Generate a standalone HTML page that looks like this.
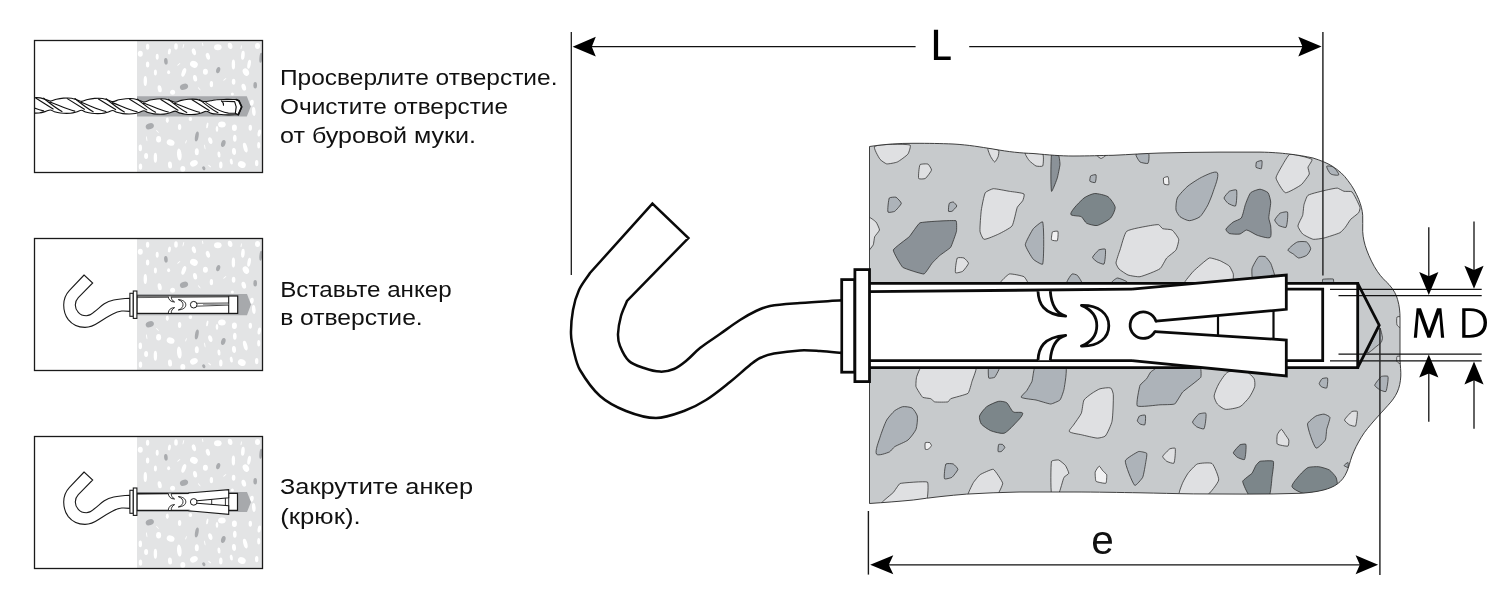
<!DOCTYPE html>
<html lang="ru">
<head>
<meta charset="utf-8">
<title>Анкер с крюком — схема монтажа</title>
<style>
html,body{margin:0;padding:0;background:#fff;}
body{width:1500px;height:600px;overflow:hidden;font-family:"Liberation Sans",sans-serif;}
svg{display:block;will-change:transform;}
text{font-family:"Liberation Sans",sans-serif;fill:#111;}
</style>
</head>
<body>
<svg width="1500" height="600" viewBox="0 0 1500 600">
<defs>
  <!-- concrete texture for the small panels (panel-1 coordinates) -->
  <g id="pconc">
    <rect x="137" y="40.5" width="125.5" height="132" fill="#e3e4e5"/>
    <g fill="#fff">
<ellipse cx="147.6" cy="46.8" rx="1.7" ry="3.0" transform="rotate(0 147.6 46.8)"/>
<ellipse cx="140.3" cy="53.8" rx="2.5" ry="3.0" transform="rotate(0 140.3 53.8)"/>
<ellipse cx="157.2" cy="56.7" rx="1.5" ry="3.0" transform="rotate(0 157.2 56.7)"/>
<ellipse cx="147.6" cy="64.6" rx="1.7" ry="3.0" transform="rotate(0 147.6 64.6)"/>
<ellipse cx="155.4" cy="72.4" rx="1.5" ry="3.0" transform="rotate(0 155.4 72.4)"/>
<ellipse cx="145.3" cy="80.9" rx="1.7" ry="5.0" transform="rotate(0 145.3 80.9)"/>
<ellipse cx="159.7" cy="88.8" rx="2.0" ry="3.5" transform="rotate(-10 159.7 88.8)"/>
<ellipse cx="169.4" cy="51.4" rx="1.5" ry="3.0" transform="rotate(10 169.4 51.4)"/>
<ellipse cx="176.0" cy="46.4" rx="1.8" ry="3.2" transform="rotate(0 176.0 46.4)"/>
<ellipse cx="168.6" cy="72.2" rx="1.5" ry="2.0" transform="rotate(0 168.6 72.2)"/>
<ellipse cx="172.6" cy="92.3" rx="2.5" ry="2.5" transform="rotate(0 172.6 92.3)"/>
<ellipse cx="183.8" cy="72.4" rx="2.0" ry="4.5" transform="rotate(20 183.8 72.4)"/>
<ellipse cx="193.9" cy="51.8" rx="2.0" ry="3.5" transform="rotate(-15 193.9 51.8)"/>
<ellipse cx="193.9" cy="64.3" rx="4.0" ry="3.3" transform="rotate(25 193.9 64.3)"/>
<ellipse cx="195.1" cy="78.3" rx="2.0" ry="3.3" transform="rotate(-10 195.1 78.3)"/>
<ellipse cx="205.4" cy="71.8" rx="2.5" ry="3.0" transform="rotate(0 205.4 71.8)"/>
<ellipse cx="207.9" cy="56.3" rx="2.0" ry="3.5" transform="rotate(-15 207.9 56.3)"/>
<ellipse cx="211.4" cy="84.1" rx="1.7" ry="3.2" transform="rotate(0 211.4 84.1)"/>
<ellipse cx="217.8" cy="47.3" rx="3.8" ry="3.0" transform="rotate(0 217.8 47.3)"/>
<ellipse cx="230.1" cy="45.9" rx="2.3" ry="3.2" transform="rotate(-10 230.1 45.9)"/>
<ellipse cx="233.4" cy="64.6" rx="1.7" ry="5.0" transform="rotate(0 233.4 64.6)"/>
<ellipse cx="233.6" cy="81.8" rx="1.8" ry="3.0" transform="rotate(0 233.6 81.8)"/>
<ellipse cx="242.9" cy="55.3" rx="1.8" ry="4.5" transform="rotate(5 242.9 55.3)"/>
<ellipse cx="245.9" cy="72.1" rx="3.0" ry="4.0" transform="rotate(-25 245.9 72.1)"/>
<ellipse cx="249.1" cy="64.3" rx="1.7" ry="4.5" transform="rotate(10 249.1 64.3)"/>
<ellipse cx="243.8" cy="87.2" rx="2.2" ry="3.5" transform="rotate(-15 243.8 87.2)"/>
<ellipse cx="257.5" cy="45.9" rx="2.5" ry="3.0" transform="rotate(0 257.5 45.9)"/>
<ellipse cx="232.4" cy="94.0" rx="1.5" ry="1.5" transform="rotate(0 232.4 94.0)"/>
<ellipse cx="251.7" cy="102.8" rx="2.0" ry="3.0" transform="rotate(10 251.7 102.8)"/>
<ellipse cx="167.3" cy="120.2" rx="1.5" ry="2.7" transform="rotate(0 167.3 120.2)"/>
<ellipse cx="190.4" cy="119.0" rx="1.8" ry="2.0" transform="rotate(0 190.4 119.0)"/>
<ellipse cx="179.6" cy="126.9" rx="1.7" ry="3.0" transform="rotate(0 179.6 126.9)"/>
<ellipse cx="207.3" cy="125.4" rx="1.0" ry="3.0" transform="rotate(10 207.3 125.4)"/>
<ellipse cx="221.9" cy="124.6" rx="3.8" ry="3.0" transform="rotate(0 221.9 124.6)"/>
<ellipse cx="217.0" cy="128.9" rx="1.3" ry="3.0" transform="rotate(0 217.0 128.9)"/>
<ellipse cx="234.4" cy="127.8" rx="2.5" ry="3.2" transform="rotate(0 234.4 127.8)"/>
<ellipse cx="250.3" cy="127.8" rx="1.7" ry="3.0" transform="rotate(0 250.3 127.8)"/>
<ellipse cx="253.8" cy="111.4" rx="1.8" ry="4.5" transform="rotate(-5 253.8 111.4)"/>
<ellipse cx="259.3" cy="133.0" rx="1.7" ry="3.5" transform="rotate(10 259.3 133.0)"/>
<ellipse cx="158.6" cy="139.2" rx="2.5" ry="3.3" transform="rotate(0 158.6 139.2)"/>
<ellipse cx="170.6" cy="142.6" rx="4.0" ry="3.0" transform="rotate(20 170.6 142.6)"/>
<ellipse cx="210.3" cy="140.6" rx="2.0" ry="3.5" transform="rotate(-15 210.3 140.6)"/>
<ellipse cx="234.8" cy="138.3" rx="1.8" ry="3.5" transform="rotate(0 234.8 138.3)"/>
<ellipse cx="245.3" cy="147.6" rx="2.0" ry="5.0" transform="rotate(-15 245.3 147.6)"/>
<ellipse cx="258.7" cy="145.3" rx="1.5" ry="3.3" transform="rotate(0 258.7 145.3)"/>
<ellipse cx="140.3" cy="147.9" rx="1.7" ry="3.3" transform="rotate(0 140.3 147.9)"/>
<ellipse cx="146.1" cy="156.1" rx="2.0" ry="3.0" transform="rotate(0 146.1 156.1)"/>
<ellipse cx="155.4" cy="157.7" rx="1.7" ry="5.0" transform="rotate(0 155.4 157.7)"/>
<ellipse cx="179.3" cy="154.6" rx="2.3" ry="6.0" transform="rotate(-5 179.3 154.6)"/>
<ellipse cx="196.8" cy="151.7" rx="2.0" ry="3.5" transform="rotate(0 196.8 151.7)"/>
<ellipse cx="219.0" cy="154.6" rx="1.5" ry="3.0" transform="rotate(-5 219.0 154.6)"/>
<ellipse cx="234.0" cy="151.4" rx="2.0" ry="3.5" transform="rotate(-5 234.0 151.4)"/>
<ellipse cx="231.3" cy="161.6" rx="1.5" ry="3.0" transform="rotate(-10 231.3 161.6)"/>
<ellipse cx="170.0" cy="165.1" rx="2.0" ry="3.5" transform="rotate(-5 170.0 165.1)"/>
<ellipse cx="193.9" cy="163.3" rx="4.0" ry="3.0" transform="rotate(-25 193.9 163.3)"/>
<ellipse cx="182.8" cy="168.9" rx="2.5" ry="3.0" transform="rotate(0 182.8 168.9)"/>
<ellipse cx="220.8" cy="165.1" rx="1.7" ry="3.5" transform="rotate(0 220.8 165.1)"/>
<ellipse cx="241.8" cy="164.5" rx="4.0" ry="3.3" transform="rotate(25 241.8 164.5)"/>
<ellipse cx="256.7" cy="163.1" rx="1.7" ry="3.2" transform="rotate(0 256.7 163.1)"/>
<ellipse cx="140.5" cy="166.6" rx="1.7" ry="3.2" transform="rotate(0 140.5 166.6)"/>
<ellipse cx="178.8" cy="64.3" rx="0.5" ry="2.0" transform="rotate(50 178.8 64.3)"/>
<ellipse cx="183.4" cy="46.2" rx="0.5" ry="2.5" transform="rotate(15 183.4 46.2)"/>
<ellipse cx="202.7" cy="44.4" rx="0.5" ry="2.0" transform="rotate(-10 202.7 44.4)"/>
<ellipse cx="224.8" cy="79.4" rx="0.5" ry="2.0" transform="rotate(50 224.8 79.4)"/>
<ellipse cx="199.2" cy="88.8" rx="0.5" ry="2.0" transform="rotate(-40 199.2 88.8)"/>
<ellipse cx="241.2" cy="47.3" rx="0.5" ry="2.0" transform="rotate(10 241.2 47.3)"/>
<ellipse cx="146.7" cy="138.8" rx="0.5" ry="2.5" transform="rotate(-10 146.7 138.8)"/>
<ellipse cx="186.0" cy="141.8" rx="0.5" ry="1.8" transform="rotate(20 186.0 141.8)"/>
<ellipse cx="204.8" cy="147.0" rx="0.5" ry="2.5" transform="rotate(-10 204.8 147.0)"/>
<ellipse cx="157.5" cy="131.5" rx="0.5" ry="2.0" transform="rotate(-45 157.5 131.5)"/>
<ellipse cx="209.5" cy="166.0" rx="0.5" ry="2.0" transform="rotate(-50 209.5 166.0)"/>
    </g>
    <g fill="#a9abae">
<ellipse cx="165.9" cy="61.3" rx="1.8" ry="3.3" transform="rotate(-5 165.9 61.3)"/>
<ellipse cx="218.2" cy="70.1" rx="2.0" ry="3.2" transform="rotate(15 218.2 70.1)"/>
<ellipse cx="184.0" cy="86.8" rx="4.2" ry="3.0" transform="rotate(-20 184.0 86.8)"/>
<ellipse cx="255.2" cy="85.3" rx="1.8" ry="3.2" transform="rotate(0 255.2 85.3)"/>
<ellipse cx="260.8" cy="57.8" rx="1.4" ry="5.0" transform="rotate(5 260.8 57.8)"/>
<ellipse cx="149.8" cy="126.2" rx="4.2" ry="3.0" transform="rotate(-20 149.8 126.2)"/>
<ellipse cx="196.8" cy="136.5" rx="1.8" ry="5.0" transform="rotate(10 196.8 136.5)"/>
<ellipse cx="223.3" cy="143.5" rx="2.2" ry="3.5" transform="rotate(15 223.3 143.5)"/>
<ellipse cx="203.8" cy="168.2" rx="1.5" ry="2.0" transform="rotate(-30 203.8 168.2)"/>
    </g>
  </g>
  <!-- hook + flanges of the small anchor (panel-2 coordinates) -->
  <g id="shook">
    <path d="M84.1,275 L69.5,290.3 C65.5,294.5 63.7,299.5 63.7,305 C63.7,311 65.5,316 68.3,319.7 C72.5,325 78.5,327.4 85,327.4 C90.5,327.4 95,325 99,322.3 C103.5,319.3 108,316.5 112.3,314.3 C115.5,312.5 118.5,311.3 121.7,311 C124.5,310.8 127,311 129.9,311.4 L129.9,298.3 C124.5,298.6 119,299 113.7,300 C110,300.8 107,302 104.3,303.7 C100.5,306.3 97.2,309.8 93.7,312.3 C91.5,314.2 89,315.7 86.3,315.7 C83,315.7 80.2,314.5 78.3,312.3 C76.4,310.2 75.3,307.8 75.3,305 C75.3,302 76.4,299.7 78.3,297.7 L92.7,283 Z" fill="#fff" stroke="#1a1a1a" stroke-width="1.1" stroke-linejoin="miter"/>
    <rect x="129.9" y="293.3" width="3.4" height="23" fill="#fff" stroke="#1a1a1a" stroke-width="1.1"/>
    <rect x="133.3" y="291" width="3.6" height="27.4" fill="#fff" stroke="#1a1a1a" stroke-width="1.1"/>
  </g>
  <!-- crescents + circle of the small anchor (panel-2 coordinates) -->
  <g id="scres" fill="#fff" stroke="#1a1a1a" stroke-width="0.9" stroke-linejoin="round">
    <path d="M168.3,296.6 C168.6,299.8 170.6,301.9 174.6,302 C172.2,300.6 171.2,298.8 171.2,296.6"/>
    <path d="M168.3,313 C168.6,309.8 170.6,307.7 174.6,307.6 C172.2,309 171.2,310.8 171.2,313"/>
    <path d="M178.3,299.6 C183.2,300 185.8,302 185.8,304.8 C185.8,307.6 183.2,309.6 178.3,310 C181.8,308.6 183,307 183,304.8 C183,302.6 181.8,301 178.3,299.6 Z"/>
  </g>
</defs>

<rect width="1500" height="600" fill="#fff"/>

<!-- ================= PANEL 1 : drilling ================= -->
<g id="panel1">
  <use href="#pconc"/>
  <!-- hole -->
  <path d="M137,96.2 L246.8,96.2 L250.8,106.4 L246.8,116.6 L137,116.6 Z" fill="#a7a9ac"/>
  <!-- drill bit -->
  <g id="drill">
<clipPath id="dclip"><rect x="34.5" y="90" width="228" height="32"/></clipPath>
<g clip-path="url(#dclip)"><g transform="rotate(0.53 60 105.6) translate(0 105.6) scale(1 .965) translate(0 -105.6)" stroke="#111" stroke-width="1.15" fill="none" stroke-linecap="round" stroke-linejoin="round">
<path d="M19.2,101.0C21.2,100.3 23.2,99.5 25.2,99.0C27.5,98.4 29.8,98.0 32.2,97.8C34.9,97.6 37.6,97.4 40.2,97.8C42.4,98.1 44.5,99.1 46.7,99.8C47.9,100.2 49.1,101.1 50.4,101.0C52.5,100.8 54.4,99.5 56.4,99.0C58.7,98.4 61.0,98.0 63.4,97.8C66.1,97.6 68.8,97.4 71.4,97.8C73.6,98.1 75.7,99.1 77.9,99.8C79.1,100.2 80.3,101.1 81.6,101.0C83.7,100.8 85.6,99.5 87.6,99.0C89.9,98.4 92.2,98.0 94.6,97.8C97.3,97.6 100.0,97.4 102.6,97.8C104.8,98.1 106.9,99.1 109.1,99.8C110.3,100.2 111.5,101.1 112.8,101.0C114.9,100.8 116.8,99.5 118.8,99.0C121.1,98.4 123.4,98.0 125.8,97.8C128.5,97.6 131.2,97.4 133.8,97.8C136.0,98.1 138.1,99.1 140.3,99.8C141.5,100.2 142.7,101.1 144.0,101.0C146.1,100.8 148.0,99.5 150.0,99.0C152.3,98.4 154.6,98.0 157.0,97.8C159.7,97.6 162.4,97.4 165.0,97.8C167.2,98.1 169.3,99.1 171.5,99.8C172.7,100.2 173.9,101.1 175.2,101.0C177.3,100.8 179.2,99.5 181.2,99.0C183.5,98.4 185.8,98.0 188.2,97.8C190.9,97.6 193.6,97.4 196.2,97.8C198.4,98.1 200.5,99.3 202.7,99.8C203.9,100.0 205.2,100.0 206.4,99.9C208.3,99.7 210.1,99.2 212.0,98.8C213.5,98.5 214.9,98.1 216.4,98.0C219.7,97.7 223.1,97.7 226.4,97.6C229.6,97.5 232.8,97.6 236.0,97.6 L238.8,98.8 L241.7,105.2 L238.4,113.3 L238.4,113.3 C234.9,113.4 231.5,113.7 228.0,113.6C224.8,113.6 221.6,113.3 218.4,113.0C216.1,112.8 213.7,112.8 211.4,112.2C209.6,111.8 208.2,110.0 206.4,110.0C204.5,109.9 203.0,111.5 201.2,112.0C199.2,112.6 197.2,113.2 195.2,113.4C191.9,113.7 188.5,113.6 185.2,113.3C183.2,113.1 181.2,112.6 179.2,112.0C177.8,111.6 176.7,110.2 175.2,110.2C173.4,110.2 171.8,111.5 170.0,112.0C168.0,112.6 166.0,113.2 164.0,113.4C160.7,113.7 157.3,113.6 154.0,113.3C152.0,113.1 150.0,112.6 148.0,112.0C146.6,111.6 145.5,110.2 144.0,110.2C142.2,110.2 140.6,111.5 138.8,112.0C136.8,112.6 134.8,113.2 132.8,113.4C129.5,113.7 126.1,113.6 122.8,113.3C120.8,113.1 118.8,112.6 116.8,112.0C115.4,111.6 114.3,110.2 112.8,110.2C111.0,110.2 109.4,111.5 107.6,112.0C105.6,112.6 103.6,113.2 101.6,113.4C98.3,113.7 94.9,113.6 91.6,113.3C89.6,113.1 87.6,112.6 85.6,112.0C84.2,111.6 83.1,110.2 81.6,110.2C79.8,110.2 78.2,111.5 76.4,112.0C74.4,112.6 72.4,113.2 70.4,113.4C67.1,113.7 63.7,113.6 60.4,113.3C58.4,113.1 56.4,112.6 54.4,112.0C53.0,111.6 51.9,110.2 50.4,110.2C48.6,110.2 47.0,111.5 45.2,112.0C43.2,112.6 41.2,113.2 39.2,113.4C35.9,113.7 32.5,113.6 29.2,113.3C27.2,113.1 25.2,112.6 23.2,112.0C21.8,111.6 20.5,110.8 19.2,110.2 Z" fill="#fff"/>
<path d="M4.8,98.3 L22.0,109.2 M12.4,98.1 C18.2,103 24.2,108 30.8,111.6 M18.8,102 C27.2,105 35.2,109.5 43.6,111.2 M36.0,98.3 L53.2,109.2 M43.6,98.1 C49.4,103 55.4,108 62.0,111.6 M50.0,102 C58.4,105 66.4,109.5 74.8,111.2 M67.2,98.3 L84.4,109.2 M74.8,98.1 C80.6,103 86.6,108 93.2,111.6 M81.2,102 C89.6,105 97.6,109.5 106.0,111.2 M98.4,98.3 L115.6,109.2 M106.0,98.1 C111.8,103 117.8,108 124.4,111.6 M112.4,102 C120.8,105 128.8,109.5 137.2,111.2 M129.6,98.3 L146.8,109.2 M137.2,98.1 C143.0,103 149.0,108 155.6,111.6 M143.6,102 C152.0,105 160.0,109.5 168.4,111.2 M160.8,98.3 L178.0,109.2 M168.4,98.1 C174.2,103 180.2,108 186.8,111.6 M174.8,102 C183.2,105 191.2,109.5 199.6,111.2 M192.0,98.3 L209.2,109.2 M199.6,98.1 C205.4,103 211.4,108 218.0,111.6"/>
<path d="M206,101.1 C212,104.6 218,110.6 228.5,111.8 L235.5,111.8" />
<path d="M221.4,99.2 C222.5,100.1 223.6,101.6 223.5,103.6"/>
<path d="M222,99.6 L234.6,99.8 L236.2,105.2 L235.4,111.8 L238.4,113.3" />
<path d="M236,97.6 L238.8,98.8 L241.7,105.2 L238.4,113.3" stroke-width="1.7"/>
</g></g>
  </g>
  <rect x="34.5" y="40.5" width="228" height="132" fill="none" stroke="#1a1a1a" stroke-width="1.3"/>
</g>

<!-- ================= PANEL 2 : insert ================= -->
<g id="panel2">
  <use href="#pconc" transform="translate(0,198)"/>
  <!-- hole -->
  <path d="M137,294 L247,294 L251,304.6 L247,315.2 L137,315.2 Z" fill="#a7a9ac"/>
  <!-- sleeve -->
  <rect x="136.9" y="296" width="100.8" height="17.4" fill="#fff" stroke="#1a1a1a" stroke-width="1.2"/>
  <path d="M136.9,297.6 L228.7,296.9" fill="none" stroke="#1a1a1a" stroke-width="0.7"/>
  <path d="M228.7,296 V313.4" fill="none" stroke="#1a1a1a" stroke-width="1.1"/>
  <path d="M196.6,303.3 L228.7,303 M196.6,306.2 L228.7,305.1" fill="none" stroke="#1a1a1a" stroke-width="0.8"/>
  <path d="M203,304.7 L228.7,304.2" fill="none" stroke="#8a8c8f" stroke-width="0.9"/>
  <circle cx="193.7" cy="304.7" r="3.3" fill="#fff" stroke="#1a1a1a" stroke-width="1"/>
  <use href="#scres"/>
  <use href="#shook"/>
  <rect x="34.5" y="238.5" width="228" height="132" fill="none" stroke="#1a1a1a" stroke-width="1.3"/>
</g>

<!-- ================= PANEL 3 : tighten ================= -->
<g id="panel3">
  <use href="#pconc" transform="translate(0,396)"/>
  <path d="M137,492 L247,492 L251,502 L247,512 L137,512 Z" fill="#a7a9ac"/>
  <g transform="translate(0,197)">
    <!-- sleeve body -->
    <path d="M136.9,296.3 L237.5,296.3 L237.5,313.4 L136.9,313.4 Z" fill="#fff" stroke="#1a1a1a" stroke-width="1.2"/>
    <path d="M228.7,296.3 V313.4 M211.7,301 V308 M225.4,300 V309" fill="none" stroke="#1a1a1a" stroke-width="0.9"/>
    <!-- wings -->
    <path d="M188.3,296 L228.7,292.6 L228.7,300.7 L197,303.7" fill="#fff" stroke="#1a1a1a" stroke-width="1.1" stroke-linejoin="miter"/>
    <path d="M197,306.3 L228.7,308.7 L228.7,317.4 L188.3,313.7" fill="#fff" stroke="#1a1a1a" stroke-width="1.1" stroke-linejoin="miter"/>
    <path d="M136.9,297.3 L188.3,296.6" fill="none" stroke="#1a1a1a" stroke-width="0.7"/>
    <circle cx="193.7" cy="304.9" r="3.3" fill="#fff" stroke="#1a1a1a" stroke-width="1"/>
    <use href="#scres"/>
    <use href="#shook"/>
  </g>
  <rect x="34.5" y="436.5" width="228" height="132" fill="none" stroke="#1a1a1a" stroke-width="1.3"/>
</g>

<!-- ================= captions ================= -->
<g font-size="22.8">
  <text x="280" y="85" textLength="277.5" lengthAdjust="spacingAndGlyphs">Просверлите отверстие.</text>
  <text x="280" y="114" textLength="228" lengthAdjust="spacingAndGlyphs">Очистите отверстие</text>
  <text x="280" y="142.6" textLength="196" lengthAdjust="spacingAndGlyphs">от буровой муки.</text>
  <text x="280.2" y="296.6" textLength="171.5" lengthAdjust="spacingAndGlyphs">Вставьте анкер</text>
  <text x="280.2" y="325.4" textLength="142.5" lengthAdjust="spacingAndGlyphs">в отверстие.</text>
  <text x="280" y="494.4" textLength="193" lengthAdjust="spacingAndGlyphs">Закрутите  анкер</text>
  <text x="280.2" y="523.6" textLength="80.5" lengthAdjust="spacingAndGlyphs">(крюк).</text>
</g>

<!-- ================= MAIN DRAWING ================= -->
<g id="main">
  <!-- concrete body -->
  <path id="concrete" d="M869.5,146.5 C885,144 900,143.3 913,143.3 C930,143.3 940,143.5 953,144 C970,145 980,147 993,149 C1010,152 1020,153 1033,153.5 C1050,155 1060,156 1073,156 C1090,156 1100,155.5 1113,155.3 C1130,154.5 1145,153.5 1160,153 C1180,152.5 1200,152.2 1220,152.1 L1260,152.1 C1272,152.3 1280,153 1289,154 C1298,155 1306,156.5 1313,158 C1321,160.5 1327,163 1332,166 C1339,170.5 1344,175 1348,180.7 C1353,187 1356,193 1358.7,199.3 C1361,205 1362.3,210 1362.7,215.3 C1363,221 1362.5,226 1362.7,231.3 C1363,238 1364.5,244 1366.7,250 C1369.5,257.5 1373,265 1377.3,271.3 C1381,277 1385.5,281 1389,284.5 C1393.5,289.5 1396.5,295 1397.6,299.6 C1399.5,306 1400,312 1400,318 L1400,360 C1400.3,366 1401,371 1400.8,376 C1400.5,382 1399.5,387 1397.3,392 C1395,397 1392,401 1388,405.3 C1383.5,410.5 1379,415 1374.7,420 C1370,425.5 1365,431 1361.3,437.3 C1357.5,443.5 1354.5,449.5 1352,456 C1349.8,462 1349,467 1346.7,472 C1344.5,477 1341.5,481 1337.3,484 C1333.5,486.8 1329,488.5 1324,489.9 C1316,492 1308,492.8 1300,493.3 C1282,494 1264,494.1 1246.7,494.1 C1229,494.1 1211,494 1193.3,493.9 C1175,493.6 1158,493.2 1140,492.8 C1120,492.5 1097,492 1073,492 L1020,492 C1002,492.4 984,493 966.7,494.1 C949,495.5 931,497.5 913.3,500 C898,501.5 884,502.5 869.5,503.5 Z" fill="#c7cacc"/>
  <clipPath id="cclip"><path d="M869.5,146.5 C885,144 900,143.3 913,143.3 C930,143.3 940,143.5 953,144 C970,145 980,147 993,149 C1010,152 1020,153 1033,153.5 C1050,155 1060,156 1073,156 C1090,156 1100,155.5 1113,155.3 C1130,154.5 1145,153.5 1160,153 C1180,152.5 1200,152.2 1220,152.1 L1260,152.1 C1272,152.3 1280,153 1289,154 C1298,155 1306,156.5 1313,158 C1321,160.5 1327,163 1332,166 C1339,170.5 1344,175 1348,180.7 C1353,187 1356,193 1358.7,199.3 C1361,205 1362.3,210 1362.7,215.3 C1363,221 1362.5,226 1362.7,231.3 C1363,238 1364.5,244 1366.7,250 C1369.5,257.5 1373,265 1377.3,271.3 C1381,277 1385.5,281 1389,284.5 C1393.5,289.5 1396.5,295 1397.6,299.6 C1399.5,306 1400,312 1400,318 L1400,360 C1400.3,366 1401,371 1400.8,376 C1400.5,382 1399.5,387 1397.3,392 C1395,397 1392,401 1388,405.3 C1383.5,410.5 1379,415 1374.7,420 C1370,425.5 1365,431 1361.3,437.3 C1357.5,443.5 1354.5,449.5 1352,456 C1349.8,462 1349,467 1346.7,472 C1344.5,477 1341.5,481 1337.3,484 C1333.5,486.8 1329,488.5 1324,489.9 C1316,492 1308,492.8 1300,493.3 C1282,494 1264,494.1 1246.7,494.1 C1229,494.1 1211,494 1193.3,493.9 C1175,493.6 1158,493.2 1140,492.8 C1120,492.5 1097,492 1073,492 L1020,492 C1002,492.4 984,493 966.7,494.1 C949,495.5 931,497.5 913.3,500 C898,501.5 884,502.5 869.5,503.5 Z"/></clipPath>
  <g clip-path="url(#cclip)" stroke="#2b2b2b" stroke-width="0.75" stroke-linejoin="round">
<path d="M874.7,146.3C872.8,147.2 878.8,157.6 880.0,159.3C880.7,160.3 885.5,163.7 886.7,163.9C888.3,164.1 895.8,162.7 897.3,162.0C899.1,161.2 906.8,155.6 908.0,154.0C908.8,152.9 911.3,145.3 910.0,145.0C904.8,143.8 879.5,144.0 874.7,146.3Z" fill="#dfe0e2"/>
<path d="M920.0,164.7C920.5,163.9 927.1,163.7 928.0,164.1C928.8,164.5 931.7,169.2 931.5,170.0C931.3,171.3 926.4,177.8 925.3,178.5C924.6,179.0 919.0,179.3 918.7,178.5C918.1,176.9 919.1,166.2 920.0,164.7Z" fill="#dfe0e2"/>
<path d="M889.3,198.0C889.7,197.3 895.2,196.9 896.0,197.2C896.9,197.6 901.4,202.3 901.3,203.3C901.2,204.6 895.8,210.6 894.7,211.3C894.0,211.8 888.3,212.9 888.0,212.1C887.3,210.5 888.5,199.6 889.3,198.0Z" fill="#adb3b9"/>
<path d="M949.3,203.3C949.5,202.8 952.8,201.8 953.3,202.0C953.9,202.2 956.9,205.3 956.8,206.0C956.7,206.9 952.8,210.8 952.0,211.3C951.6,211.5 948.6,211.7 948.5,211.3C948.2,210.3 948.8,204.2 949.3,203.3Z" fill="#adb3b9"/>
<path d="M920.0,222.8C923.0,221.8 952.9,220.0 956.0,220.7C956.9,220.9 956.7,230.4 956.5,231.3C956.2,232.8 951.5,246.1 950.7,247.3C950.0,248.3 940.9,254.5 940.0,255.3C939.2,255.9 932.6,262.5 932.0,263.3C931.2,264.2 925.2,273.8 924.0,274.0C922.1,274.3 904.2,268.5 902.7,267.3C901.3,266.2 892.9,251.7 893.3,250.0C893.7,248.2 908.0,238.0 909.3,236.7C910.4,235.6 918.5,223.3 920.0,222.8Z" fill="#8b9298"/>
<path d="M868.0,217.0C868.3,215.9 875.2,221.1 876.0,222.0C876.7,222.8 879.6,228.9 879.5,230.0C879.4,231.0 875.1,235.8 874.7,236.7C874.3,237.6 873.7,243.8 873.3,244.7C872.9,245.6 868.2,252.0 868.0,251.0C867.2,246.8 866.9,221.1 868.0,217.0Z" fill="#dfe0e2"/>
<path d="M957.3,258.0C957.7,257.3 963.2,257.6 964.0,258.0C964.8,258.4 968.6,262.4 968.5,263.3C968.4,264.5 963.7,270.6 962.7,271.3C962.0,271.8 955.8,273.5 955.5,272.7C954.8,271.0 956.4,259.6 957.3,258.0Z" fill="#dfe0e2"/>
<path d="M985.3,192.7C986.0,191.5 992.0,188.8 993.3,188.7C995.7,188.6 1006.9,190.9 1009.3,191.3C1011.5,191.7 1022.2,192.7 1024.0,194.0C1024.8,194.6 1023.2,199.8 1022.7,200.7C1022.1,201.8 1017.8,206.1 1017.3,207.3C1016.2,210.0 1013.7,223.6 1012.0,226.0C1010.7,227.9 1000.8,233.0 998.7,234.0C996.6,235.0 986.3,239.6 984.0,239.3C982.7,239.1 980.1,232.6 980.0,231.3C979.7,228.1 980.9,213.2 981.3,210.0C981.7,207.4 984.0,195.0 985.3,192.7Z" fill="#dfe0e2"/>
<path d="M988.0,148.2C989.1,147.3 997.7,149.4 998.7,150.3C999.3,150.8 998.4,155.9 998.1,156.7C997.8,157.4 995.5,162.0 994.7,162.0C993.9,162.0 991.1,157.4 990.7,156.7C990.2,155.7 987.1,148.9 988.0,148.2Z" fill="#dfe0e2"/>
<path d="M1025.3,153.0C1027.2,152.0 1041.0,152.7 1042.7,154.0C1043.9,154.9 1043.4,164.7 1042.7,166.0C1042.3,166.7 1036.8,166.3 1036.0,166.0C1035.0,165.6 1030.0,161.5 1029.3,160.7C1028.6,159.9 1024.3,153.5 1025.3,153.0Z" fill="#dfe0e2"/>
<path d="M1051.5,154.7C1051.6,154.0 1058.2,154.9 1058.7,155.5C1059.3,156.2 1060.1,163.8 1060.0,164.7C1059.9,166.1 1057.7,176.7 1057.3,178.0C1056.9,179.4 1051.9,192.7 1051.5,191.3C1050.6,187.7 1050.8,158.3 1051.5,154.7Z" fill="#8b9298"/>
<path d="M1042.7,222.0C1044.1,227.1 1044.0,259.0 1042.7,264.1C1042.4,265.4 1034.2,260.3 1033.3,259.3C1031.9,257.8 1025.3,246.8 1025.3,244.7C1025.3,242.5 1031.9,230.5 1033.3,228.7C1034.2,227.6 1042.3,220.6 1042.7,222.0Z" fill="#adb3b9"/>
<path d="M1052.5,231.9C1052.8,231.5 1057.6,230.8 1057.9,231.3C1058.4,232.1 1057.9,239.9 1057.3,240.7C1057.0,241.2 1051.8,240.4 1051.5,239.9C1051.1,239.2 1052.0,232.5 1052.5,231.9Z" fill="#f1f1f2"/>
<path d="M1090.7,175.9C1091.2,175.4 1095.6,174.2 1096.0,174.8C1096.5,175.6 1095.9,181.8 1095.2,182.5C1094.7,183.0 1090.3,181.8 1089.9,181.2C1089.5,180.6 1090.2,176.4 1090.7,175.9Z" fill="#adb3b9"/>
<path d="M1070.7,214.0C1071.3,209.9 1080.8,200.7 1084.0,198.0C1085.8,196.5 1092.4,193.6 1094.7,193.5C1097.4,193.4 1105.7,195.2 1108.0,196.7C1110.1,198.1 1114.9,204.8 1115.2,207.3C1115.5,209.6 1112.3,216.3 1110.7,218.0C1108.5,220.2 1100.3,224.8 1097.3,225.5C1095.2,226.0 1088.6,224.3 1086.7,223.3C1085.2,222.5 1082.8,217.6 1081.3,216.7C1079.4,215.6 1070.4,216.2 1070.7,214.0Z" fill="#7c868a"/>
<path d="M1098.7,250.0C1099.4,249.5 1105.0,248.4 1105.3,249.2C1106.0,251.0 1105.0,262.5 1104.0,264.1C1103.5,264.8 1098.1,262.4 1097.3,262.0C1096.6,261.6 1092.4,258.3 1092.5,257.5C1092.6,256.3 1097.7,250.7 1098.7,250.0Z" fill="#adb3b9"/>
<path d="M1126.7,231.3C1129.6,229.0 1147.1,226.2 1150.7,225.5C1151.9,225.3 1157.5,224.4 1158.7,224.7C1159.5,224.9 1161.9,228.4 1162.7,228.7C1164.0,229.2 1170.8,229.2 1172.0,230.0C1173.4,230.9 1178.4,237.6 1178.7,239.3C1179.0,240.9 1176.9,248.6 1176.0,250.0C1175.0,251.5 1167.9,256.6 1166.7,258.0C1165.5,259.4 1161.6,267.6 1160.0,268.7C1157.4,270.6 1143.2,276.1 1140.0,276.7C1138.2,277.1 1129.7,275.6 1128.0,275.0C1126.5,274.4 1120.1,270.1 1119.0,269.0C1118.3,268.3 1115.9,264.0 1116.0,263.0C1116.1,261.0 1119.3,251.9 1120.0,250.0C1121.0,247.2 1124.4,233.2 1126.7,231.3Z" fill="#dfe0e2"/>
<path d="M1136.0,154.3C1137.1,153.2 1147.2,152.4 1148.5,153.3C1149.5,154.1 1148.9,162.4 1148.0,163.3C1147.3,164.0 1140.8,162.6 1140.0,162.0C1139.1,161.3 1135.2,155.1 1136.0,154.3Z" fill="#adb3b9"/>
<path d="M1000.0,284.0C998.5,283.2 1007.7,274.5 1009.3,274.0C1011.1,273.5 1022.4,275.8 1024.0,276.7C1024.9,277.2 1029.0,283.7 1028.0,284.0C1024.7,285.0 1003.1,285.7 1000.0,284.0Z" fill="#dfe0e2"/>
<path d="M1066.7,284.0C1065.5,282.8 1070.7,275.1 1072.0,274.0C1072.6,273.5 1076.7,274.7 1077.3,275.3C1078.3,276.3 1083.0,283.1 1081.9,284.0C1080.1,285.4 1068.3,285.6 1066.7,284.0Z" fill="#adb3b9"/>
<path d="M1110.7,284.0C1109.5,283.3 1116.0,278.2 1117.3,278.0C1118.8,277.8 1125.4,280.8 1126.7,281.5C1127.1,281.7 1128.4,283.9 1128.0,284.0C1125.4,284.4 1113.0,285.3 1110.7,284.0Z" fill="#adb3b9"/>
<path d="M1163.5,178.0C1163.7,177.6 1167.7,176.3 1168.0,176.7C1168.5,177.3 1169.2,184.0 1168.8,184.7C1168.6,185.1 1164.3,184.5 1164.0,184.1C1163.6,183.6 1163.2,178.5 1163.5,178.0Z" fill="#f1f1f2"/>
<path d="M1217.3,172.7C1215.5,170.3 1205.5,175.4 1202.7,176.7C1199.5,178.1 1190.7,183.8 1188.0,186.0C1185.5,188.1 1178.7,195.1 1177.3,198.0C1176.2,200.2 1175.7,207.6 1176.0,210.0C1176.2,211.5 1178.8,215.7 1180.0,216.7C1181.6,218.0 1187.3,220.7 1189.3,220.7C1191.6,220.7 1198.3,218.2 1200.0,216.7C1202.2,214.8 1206.7,207.3 1208.0,204.7C1209.3,202.1 1212.5,194.1 1213.3,191.3C1214.4,187.6 1219.5,175.8 1217.3,172.7Z" fill="#adb3b9"/>
<path d="M1229.3,191.3C1230.1,190.8 1236.1,189.2 1236.5,190.0C1237.3,191.8 1236.6,204.3 1235.5,206.0C1235.0,206.8 1228.8,203.9 1228.0,203.3C1227.3,202.8 1223.9,198.8 1224.0,198.0C1224.1,196.9 1228.4,191.9 1229.3,191.3Z" fill="#adb3b9"/>
<path d="M1256.5,162.0C1256.9,161.6 1261.6,160.2 1261.9,160.7C1262.4,161.4 1261.8,168.1 1261.3,168.7C1260.9,169.1 1256.3,167.7 1256.0,167.3C1255.7,166.9 1256.1,162.4 1256.5,162.0Z" fill="#adb3b9"/>
<path d="M1250.7,192.7C1251.9,191.4 1258.3,189.2 1260.0,189.2C1261.5,189.2 1267.0,191.5 1268.0,192.7C1269.1,194.0 1270.6,200.3 1270.7,202.0C1270.8,204.8 1268.8,215.2 1268.8,218.0C1268.8,219.4 1270.6,224.6 1270.7,226.0C1270.8,228.0 1271.8,236.4 1270.1,237.5C1268.2,238.8 1259.5,236.0 1257.3,235.3C1255.3,234.7 1248.8,230.2 1246.7,230.0C1245.3,229.9 1241.3,233.7 1240.0,234.0C1238.2,234.4 1231.1,234.1 1229.3,233.5C1228.4,233.2 1225.6,230.1 1225.9,229.2C1226.5,227.5 1231.8,223.1 1233.3,222.0C1234.6,221.1 1240.4,219.3 1241.3,218.0C1242.7,216.0 1244.5,207.0 1245.3,204.7C1246.1,202.5 1249.1,194.4 1250.7,192.7Z" fill="#8b9298"/>
<path d="M1280.0,213.2C1280.8,212.7 1287.1,211.2 1287.5,212.1C1288.3,213.9 1287.1,225.7 1286.1,227.3C1285.6,228.1 1279.5,226.0 1278.7,225.5C1278.0,225.1 1274.6,220.9 1274.7,220.1C1274.8,219.0 1279.1,213.8 1280.0,213.2Z" fill="#adb3b9"/>
<path d="M1289.9,154.3C1292.7,153.8 1309.7,157.7 1312.0,159.4C1312.9,160.0 1308.2,166.2 1308.0,167.3C1307.8,168.1 1309.6,173.2 1309.3,174.0C1308.7,175.6 1302.6,183.7 1301.3,184.7C1299.5,186.1 1287.5,193.3 1285.3,192.7C1283.2,192.1 1276.2,180.2 1276.0,178.0C1275.8,176.1 1281.8,166.3 1282.7,164.7C1283.5,163.3 1288.3,154.6 1289.9,154.3Z" fill="#dfe0e2"/>
<path d="M1326.7,166.3C1327.0,165.4 1332.5,166.4 1333.3,167.0C1334.5,167.8 1339.2,173.5 1338.7,174.8C1338.3,175.9 1331.7,174.7 1330.7,174.0C1329.6,173.2 1326.2,167.5 1326.7,166.3Z" fill="#adb3b9"/>
<path d="M1308.0,195.3C1310.4,193.7 1323.9,190.7 1326.7,190.0C1328.3,189.6 1335.7,188.0 1337.3,188.1C1338.4,188.2 1342.9,191.0 1344.0,191.3C1345.2,191.6 1351.1,191.0 1352.0,191.9C1353.8,193.7 1359.2,204.8 1360.0,207.3C1360.3,208.1 1359.2,212.0 1358.7,212.7C1357.7,213.9 1351.8,218.2 1350.7,219.3C1349.7,220.4 1346.2,226.2 1345.3,227.3C1344.6,228.2 1341.0,232.2 1340.0,232.7C1337.7,233.8 1326.5,237.4 1324.0,238.0C1322.4,238.4 1314.9,239.6 1313.3,239.3C1311.6,239.0 1304.0,235.2 1302.7,234.0C1301.6,233.1 1297.9,227.4 1297.9,226.0C1297.9,224.2 1302.2,217.0 1302.7,215.3C1303.1,213.8 1303.6,206.2 1304.0,204.7C1304.4,203.2 1306.7,196.1 1308.0,195.3Z" fill="#dfe0e2"/>
<path d="M1288.0,250.0C1288.7,248.0 1295.3,242.8 1297.3,242.0C1298.8,241.4 1305.2,241.3 1306.7,242.0C1307.9,242.6 1310.7,247.3 1310.7,248.7C1310.7,250.1 1307.8,254.5 1306.7,255.3C1305.5,256.2 1300.2,258.1 1298.7,258.0C1297.5,257.9 1294.2,254.7 1293.3,254.0C1292.4,253.3 1287.6,251.1 1288.0,250.0Z" fill="#adb3b9"/>
<path d="M1252.0,268.7C1252.3,266.7 1257.2,258.1 1258.7,256.7C1259.4,256.0 1264.4,256.2 1265.3,256.7C1266.4,257.3 1270.1,262.2 1270.7,263.3C1271.6,265.0 1274.2,273.5 1274.7,275.3C1275.0,276.6 1277.2,283.5 1276.0,284.0C1273.0,285.3 1256.8,285.8 1254.0,284.0C1252.0,282.8 1251.6,271.0 1252.0,268.7Z" fill="#adb3b9"/>
<path d="M1186.7,279.3C1187.5,278.3 1192.4,272.2 1193.3,271.3C1195.2,269.5 1206.9,259.0 1209.3,258.0C1210.6,257.5 1218.7,260.2 1220.0,260.7C1221.2,261.2 1228.4,265.1 1229.3,266.0C1230.1,266.8 1233.1,272.9 1233.3,274.0C1233.5,275.2 1233.2,283.7 1232.0,284.0C1226.1,285.2 1190.0,284.6 1184.0,284.0C1183.3,283.9 1186.3,279.8 1186.7,279.3Z" fill="#dfe0e2"/>
<path d="M1322.7,279.3C1323.4,279.0 1332.6,278.7 1333.3,279.0C1333.6,279.1 1333.8,283.8 1333.5,284.0C1332.8,284.3 1323.4,284.3 1322.7,284.0C1322.4,283.9 1322.4,279.5 1322.7,279.3Z" fill="#adb3b9"/>
<path d="M922.0,366.0C928.6,364.7 969.5,364.0 976.0,366.0C977.9,366.6 972.6,379.4 972.0,381.3C971.6,382.8 969.2,392.3 968.0,393.3C966.2,394.7 952.8,397.8 950.7,398.7C950.2,398.9 948.5,401.8 948.0,401.9C946.4,402.2 936.3,402.2 934.7,401.9C934.1,401.8 931.3,398.9 930.7,398.7C929.8,398.3 923.5,397.9 922.7,397.3C921.5,396.3 916.5,388.2 916.0,386.7C915.7,385.6 916.2,378.4 916.5,377.3C916.9,375.8 920.5,366.3 922.0,366.0Z" fill="#dfe0e2"/>
<path d="M988.8,366.0C989.6,365.2 999.5,365.0 1000.0,366.0C1000.6,367.1 995.5,376.4 994.7,377.3C994.3,377.7 989.1,378.6 988.8,378.1C988.2,377.0 988.0,366.9 988.8,366.0Z" fill="#adb3b9"/>
<path d="M1035.5,366.0C1038.9,364.4 1062.6,363.6 1065.5,366.0C1067.8,367.8 1064.5,386.4 1064.0,389.3C1063.8,390.7 1061.0,398.9 1060.0,400.0C1059.2,400.9 1052.0,404.0 1050.7,404.0C1048.8,404.0 1037.9,400.4 1036.0,400.0C1034.2,399.6 1022.6,398.6 1021.3,397.3C1020.5,396.5 1026.1,391.6 1026.7,390.7C1027.4,389.6 1031.5,382.6 1032.0,381.3C1032.7,379.5 1033.7,366.8 1035.5,366.0Z" fill="#adb3b9"/>
<path d="M902.7,406.7C904.6,406.4 910.4,407.0 912.0,408.0C913.6,409.0 916.9,414.1 917.3,416.0C917.8,418.6 917.0,426.8 916.0,429.3C915.0,431.8 910.1,438.3 908.0,440.0C905.7,441.9 897.2,445.1 894.7,446.7C893.4,447.5 890.7,451.4 889.3,452.0C886.9,453.0 877.9,456.3 876.5,454.1C874.7,451.2 879.0,440.6 880.0,437.3C881.1,433.7 884.9,423.2 886.7,420.0C887.9,417.9 892.8,412.3 894.7,410.7C896.1,409.6 900.9,407.0 902.7,406.7Z" fill="#adb3b9"/>
<path d="M998.7,401.3C1000.3,401.0 1005.4,401.7 1006.7,402.7C1008.5,404.0 1011.4,410.7 1013.3,412.0C1014.9,413.0 1022.5,411.4 1022.7,413.3C1023.0,416.0 1016.5,422.0 1014.7,424.0C1012.8,426.1 1006.7,432.5 1004.0,433.3C1001.4,434.0 993.2,431.7 990.7,430.7C988.6,429.8 982.7,425.8 981.3,424.0C980.3,422.7 979.0,417.6 979.5,416.0C980.2,413.8 984.8,408.1 986.7,406.7C988.8,405.1 996.1,401.8 998.7,401.3Z" fill="#7c868a"/>
<path d="M1100.0,388.8C1101.8,388.3 1109.0,387.2 1110.7,388.0C1111.8,388.5 1113.3,393.4 1113.3,394.7C1113.5,399.4 1112.9,416.7 1112.0,421.3C1111.5,424.1 1107.2,433.9 1105.3,436.0C1104.3,437.1 1098.7,438.2 1097.3,438.1C1094.4,437.9 1084.1,435.4 1081.3,434.7C1079.2,434.2 1070.7,433.2 1069.3,431.5C1068.5,430.5 1072.6,426.4 1073.3,425.3C1074.7,423.2 1080.3,415.6 1081.3,413.3C1082.2,411.1 1082.9,402.1 1084.0,400.0C1084.9,398.4 1090.5,394.3 1092.0,393.3C1093.3,392.4 1098.5,389.2 1100.0,388.8Z" fill="#dfe0e2"/>
<path d="M1200.0,366.0C1201.1,366.3 1201.4,376.4 1200.8,377.3C1199.5,379.2 1184.3,390.3 1182.7,392.0C1181.7,393.0 1176.0,403.3 1174.7,404.0C1173.4,404.7 1161.5,404.7 1160.0,404.8C1157.7,404.9 1138.9,407.5 1137.3,405.9C1135.8,404.4 1139.3,387.3 1140.0,385.3C1140.3,384.4 1146.1,379.4 1146.7,378.7C1147.2,378.1 1150.1,372.5 1150.7,372.0C1151.5,371.2 1158.9,366.1 1160.0,366.0C1164.0,365.5 1196.1,364.9 1200.0,366.0Z" fill="#adb3b9"/>
<path d="M1139.5,416.0C1140.1,415.6 1144.9,414.6 1145.3,415.2C1145.9,416.2 1145.4,423.8 1144.8,424.8C1144.5,425.3 1140.5,424.3 1140.0,424.0C1139.5,423.8 1137.3,421.3 1137.3,420.8C1137.3,420.1 1139.0,416.4 1139.5,416.0Z" fill="#adb3b9"/>
<path d="M925.3,442.7C925.6,442.2 929.4,442.4 929.9,442.7C930.3,442.9 931.6,445.5 931.5,445.9C931.3,446.5 928.5,449.0 928.0,449.3C927.7,449.5 925.4,449.6 925.3,449.3C925.0,448.5 924.8,443.4 925.3,442.7Z" fill="#f1f1f2"/>
<path d="M998.7,444.5C999.0,444.1 1002.3,444.3 1002.7,444.5C1003.1,444.7 1004.9,447.1 1004.8,447.5C1004.7,448.2 1001.9,451.2 1001.3,451.5C1001.0,451.7 998.2,451.9 998.1,451.5C997.8,450.7 998.2,445.2 998.7,444.5Z" fill="#adb3b9"/>
<path d="M945.9,464.0C946.4,463.2 952.5,463.6 953.3,464.0C954.1,464.4 958.0,468.4 957.9,469.3C957.8,470.5 953.0,476.6 952.0,477.3C951.2,477.8 944.9,479.6 944.5,478.7C943.7,477.0 945.0,465.6 945.9,464.0Z" fill="#adb3b9"/>
<path d="M993.3,469.3C994.9,469.9 1002.4,481.5 1002.7,483.2C1002.9,484.4 998.5,494.1 997.3,494.5C994.5,495.5 970.6,497.3 968.0,496.0C966.7,495.4 972.6,483.9 973.3,482.7C973.8,481.8 979.1,475.3 980.0,474.7C981.2,473.9 992.0,468.8 993.3,469.3Z" fill="#dfe0e2"/>
<path d="M900.0,483.5C902.0,482.9 925.7,481.0 927.5,482.1C928.6,482.8 927.9,499.0 926.7,499.5C923.6,500.9 884.6,504.2 881.3,503.5C880.1,503.2 892.5,493.4 893.3,492.5C893.9,491.9 899.2,483.7 900.0,483.5Z" fill="#dfe0e2"/>
<path d="M1051.5,461.3C1051.7,460.4 1057.8,459.7 1058.7,460.0C1059.7,460.3 1064.7,464.5 1065.3,465.3C1066.0,466.2 1068.9,472.2 1068.8,473.3C1068.7,474.1 1064.3,476.6 1064.0,477.3C1063.0,479.2 1060.0,491.8 1058.7,493.5C1058.2,494.2 1051.7,494.4 1051.5,493.5C1050.6,489.6 1050.7,465.2 1051.5,461.3Z" fill="#dfe0e2"/>
<path d="M1099.2,466.1C1099.8,466.0 1102.3,470.3 1102.7,470.7C1103.1,471.1 1106.6,474.2 1106.7,474.7C1106.9,475.5 1106.6,482.8 1105.9,483.2C1105.0,483.7 1096.7,482.0 1096.0,481.3C1095.4,480.6 1095.0,472.9 1095.2,472.0C1095.3,471.3 1098.5,466.2 1099.2,466.1Z" fill="#f1f1f2"/>
<path d="M1125.3,460.8C1125.5,458.8 1136.8,452.2 1138.7,451.5C1139.7,451.2 1146.1,452.5 1146.7,453.3C1147.3,454.1 1146.1,460.3 1145.9,461.3C1145.6,463.3 1143.6,475.5 1142.7,477.3C1142.1,478.6 1135.7,486.3 1134.7,485.3C1132.3,483.0 1124.9,464.1 1125.3,460.8Z" fill="#adb3b9"/>
<path d="M1228.0,372.0C1231.4,370.5 1243.1,371.1 1246.7,372.0C1248.6,372.5 1253.1,376.9 1254.1,378.7C1254.9,380.1 1255.1,385.1 1254.7,386.7C1254.1,389.0 1250.7,395.4 1249.3,397.3C1247.7,399.4 1242.4,405.5 1240.0,406.7C1237.3,408.0 1228.3,409.7 1225.3,409.3C1223.4,409.1 1218.5,405.5 1217.3,404.0C1216.2,402.7 1214.0,397.7 1214.1,396.0C1214.3,393.4 1217.4,386.2 1218.7,384.0C1220.2,381.4 1225.2,373.2 1228.0,372.0Z" fill="#dfe0e2"/>
<path d="M1322.1,378.7C1322.7,378.3 1327.2,377.5 1327.5,378.1C1328.1,379.2 1327.4,387.0 1326.7,388.0C1326.3,388.6 1321.9,387.1 1321.3,386.7C1320.9,386.5 1319.2,384.0 1319.2,383.5C1319.3,382.8 1321.5,379.1 1322.1,378.7Z" fill="#adb3b9"/>
<path d="M1381.3,376.5C1382.0,376.0 1387.8,375.7 1388.0,376.5C1388.6,378.3 1386.9,389.9 1385.9,391.5C1385.5,392.2 1380.7,390.3 1380.0,389.9C1379.2,389.5 1374.6,386.2 1374.7,385.3C1374.8,383.9 1380.2,377.3 1381.3,376.5Z" fill="#adb3b9"/>
<path d="M1198.7,414.1C1199.5,413.6 1205.6,412.4 1205.9,413.3C1206.6,415.1 1205.1,427.2 1204.0,428.8C1203.4,429.6 1197.3,427.2 1196.5,426.7C1195.8,426.3 1192.4,422.9 1192.5,422.1C1192.7,420.9 1197.6,414.8 1198.7,414.1Z" fill="#adb3b9"/>
<path d="M1307.5,424.0C1307.5,422.2 1314.5,416.9 1316.0,416.0C1317.1,415.4 1322.8,414.0 1324.0,414.1C1325.0,414.2 1329.7,416.3 1329.9,417.3C1330.2,419.1 1327.1,427.5 1326.7,429.3C1326.4,430.9 1326.1,438.6 1325.3,440.0C1324.4,441.6 1317.4,449.2 1316.0,448.0C1313.2,445.4 1307.5,427.8 1307.5,424.0Z" fill="#adb3b9"/>
<path d="M1352.0,411.5C1352.6,411.1 1357.1,410.9 1357.3,411.5C1357.7,413.3 1356.4,424.5 1355.5,426.1C1355.1,426.8 1350.0,425.2 1349.3,424.8C1348.6,424.4 1344.3,420.8 1344.5,420.0C1344.8,418.6 1350.8,412.3 1352.0,411.5Z" fill="#dfe0e2"/>
<path d="M1281.3,429.3C1282.1,429.3 1284.8,434.0 1285.3,434.7C1285.8,435.4 1288.6,439.2 1288.8,440.0C1289.0,440.7 1288.7,445.8 1288.0,446.1C1286.7,446.5 1278.2,445.0 1277.3,444.0C1276.5,443.2 1277.0,435.8 1277.3,434.7C1277.5,433.9 1280.5,429.3 1281.3,429.3Z" fill="#dfe0e2"/>
<path d="M1240.0,444.8C1240.6,444.4 1245.7,443.6 1245.9,444.3C1246.5,446.1 1245.6,457.9 1244.5,459.5C1244.0,460.3 1238.1,457.8 1237.3,457.3C1236.7,456.9 1233.1,453.5 1233.3,452.8C1233.6,451.5 1238.9,445.5 1240.0,444.8Z" fill="#8b9298"/>
<path d="M1169.9,448.8C1170.5,448.4 1175.0,447.7 1175.2,448.3C1175.7,450.1 1174.9,461.6 1173.9,463.2C1173.4,464.0 1167.5,461.8 1166.7,461.3C1166.0,460.9 1162.5,457.3 1162.7,456.5C1163.0,455.2 1168.8,449.5 1169.9,448.8Z" fill="#dfe0e2"/>
<path d="M1197.3,464.0C1199.3,463.2 1210.2,462.2 1212.0,463.5C1214.1,465.1 1219.1,477.4 1218.7,480.0C1218.2,482.9 1209.4,494.4 1206.7,495.5C1202.9,497.0 1183.1,496.9 1179.5,495.0C1177.8,494.1 1182.0,484.5 1182.7,482.7C1183.3,481.2 1187.0,474.6 1188.0,473.3C1189.2,471.7 1195.5,464.7 1197.3,464.0Z" fill="#dfe0e2"/>
<path d="M1260.0,461.3C1261.3,461.0 1272.5,460.2 1273.3,461.3C1274.3,462.6 1272.2,475.7 1272.0,477.3C1271.8,479.1 1270.7,494.3 1269.3,495.5C1267.7,496.8 1251.1,496.4 1249.3,495.5C1247.9,494.8 1242.5,482.9 1242.7,481.3C1242.8,480.1 1251.2,474.2 1252.0,473.3C1252.6,472.6 1255.5,466.0 1256.0,465.3C1256.3,464.8 1259.4,461.4 1260.0,461.3Z" fill="#7c868a"/>
<path d="M1292.0,486.7C1291.3,484.3 1298.4,476.6 1300.0,474.7C1301.2,473.3 1306.3,468.2 1308.0,467.5C1309.7,466.8 1316.8,466.5 1318.7,466.7C1320.6,466.9 1327.6,468.9 1329.3,469.9C1330.8,470.8 1335.2,475.7 1336.0,477.3C1336.7,478.7 1338.0,484.8 1337.0,486.0C1335.4,487.9 1326.4,491.4 1324.0,492.0C1320.8,492.8 1308.5,494.5 1305.3,494.0C1302.7,493.6 1292.7,489.3 1292.0,486.7Z" fill="#7c868a"/>
<path d="M1344.0,465.5C1344.0,465.1 1347.7,462.3 1348.0,462.5C1348.3,462.7 1348.3,467.3 1348.0,467.5C1347.7,467.7 1344.0,465.8 1344.0,465.5Z" fill="#adb3b9"/>
<path d="M1097.0,155.5C1097.7,155.0 1105.3,154.5 1106.0,155.0C1106.5,155.4 1101.6,158.5 1101.0,158.5C1100.5,158.5 1096.6,155.8 1097.0,155.5Z" fill="#dfe0e2"/>
<path d="M1379.4,327.7C1380.6,327.1 1382.3,336.5 1382.5,337.8C1382.6,338.4 1381.6,341.9 1381.2,342.4C1380.7,343.1 1376.4,346.5 1375.7,347.0C1374.7,347.8 1368.5,353.6 1367.5,352.8C1366.5,352.0 1370.7,344.5 1371.2,343.3C1372.1,341.3 1377.4,328.7 1379.4,327.7Z" fill="#b6bbc0"/>
<path d="M1397.0,317.0C1397.3,316.5 1400.8,316.4 1401.0,317.0C1401.6,318.6 1401.7,326.5 1401.0,328.0C1400.7,328.7 1397.3,325.7 1397.0,325.0C1396.6,323.9 1396.5,318.1 1397.0,317.0Z" fill="#dfe0e2"/>
<path d="M1397.0,356.5C1397.4,356.0 1400.7,356.0 1401.0,356.5C1401.5,357.5 1401.7,363.1 1401.0,364.0C1400.6,364.6 1397.3,362.1 1397.0,361.5C1396.6,360.8 1396.5,357.1 1397.0,356.5Z" fill="#dfe0e2"/>
  </g>
  <path d="M869.5,146.5 C885,144 900,143.3 913,143.3 C930,143.3 940,143.5 953,144 C970,145 980,147 993,149 C1010,152 1020,153 1033,153.5 C1050,155 1060,156 1073,156 C1090,156 1100,155.5 1113,155.3 C1130,154.5 1145,153.5 1160,153 C1180,152.5 1200,152.2 1220,152.1 L1260,152.1 C1272,152.3 1280,153 1289,154 C1298,155 1306,156.5 1313,158 C1321,160.5 1327,163 1332,166 C1339,170.5 1344,175 1348,180.7 C1353,187 1356,193 1358.7,199.3 C1361,205 1362.3,210 1362.7,215.3 C1363,221 1362.5,226 1362.7,231.3 C1363,238 1364.5,244 1366.7,250 C1369.5,257.5 1373,265 1377.3,271.3 C1381,277 1385.5,281 1389,284.5 C1393.5,289.5 1396.5,295 1397.6,299.6 C1399.5,306 1400,312 1400,318 L1400,360 C1400.3,366 1401,371 1400.8,376 C1400.5,382 1399.5,387 1397.3,392 C1395,397 1392,401 1388,405.3 C1383.5,410.5 1379,415 1374.7,420 C1370,425.5 1365,431 1361.3,437.3 C1357.5,443.5 1354.5,449.5 1352,456 C1349.8,462 1349,467 1346.7,472 C1344.5,477 1341.5,481 1337.3,484 C1333.5,486.8 1329,488.5 1324,489.9 C1316,492 1308,492.8 1300,493.3 C1282,494 1264,494.1 1246.7,494.1 C1229,494.1 1211,494 1193.3,493.9 C1175,493.6 1158,493.2 1140,492.8 C1120,492.5 1097,492 1073,492 L1020,492 C1002,492.4 984,493 966.7,494.1 C949,495.5 931,497.5 913.3,500 C898,501.5 884,502.5 869.5,503.5 Z" fill="none" stroke="#2b2b2b" stroke-width="0.9"/>

  <!-- drilled hole (white) -->
  <rect x="869.5" y="283.4" width="488.2" height="84.4" fill="#fff"/>

  <!-- M / D dimension lines -->
  <g stroke="#111" stroke-width="1.25" fill="none">
    <path d="M1330,289.4 H1481.7 M1330,360.8 H1481.7"/>
    <path d="M1338.5,295.5 H1481.7 M1338.5,354 H1481.7"/>
  </g>

  <!-- sleeve lines -->
  <g stroke="#0a0a0a" stroke-width="2.8" fill="none" stroke-linejoin="miter" stroke-miterlimit="6">
    <path d="M869.5,283.4 H1357.7 V367.6 H869.5"/>
    <path d="M1357.7,283.4 L1379.2,325.2 L1357.7,367.6"/>
    <path d="M869.5,291.6 L1132,289.2"/>
    <path d="M869.5,360.6 H1132"/>
    <!-- inner rectangle (cone nut) -->
    <path d="M1286.3,289.2 H1322.7 V360.6 H1286.3"/>
    <path d="M1218,314 V337 M1273.5,309 V340" stroke-width="2.2"/>
    <!-- wings -->
    <path d="M1132,289.2 L1286.3,275 L1286.3,309.3 L1155.9,321.2" fill="#fff"/>
    <path d="M1154.8,331.7 L1286.3,340 L1286.3,375.9 L1132,360.6" fill="#fff"/>
    <!-- keyhole -->
    <path d="M1155.9,321.2 A13.2,13.2 0 1 0 1154.8,331.7" fill="#fff" stroke-linecap="round"/>
    <!-- crescents -->
    <g stroke-width="2.8" stroke-linejoin="round" fill="#fff">
      <path d="M1038,291.2 C1038.5,303 1043,314.5 1065.7,316.2 C1058,314 1051.5,308 1050.3,291.2"/>
      <path d="M1038,360.3 C1038.5,348.5 1043,337 1065.7,335.3 C1058,337.5 1051.5,343.5 1050.3,360.3"/>
      <path d="M1081.4,305.4 C1099,305 1108.8,314 1108.8,325.7 C1108.8,337.5 1099,346.5 1081.4,346.1 C1092.5,341.5 1096.8,334.5 1096.8,325.7 C1096.8,317 1092.5,310 1081.4,305.4 Z"/>
    </g>
  </g>

  <!-- flanges -->
  <g stroke="#0a0a0a" stroke-width="2.8" fill="#fff">
    <rect x="841.7" y="279.6" width="13.2" height="92.6"/>
    <rect x="854.9" y="269.6" width="14.6" height="112"/>
  </g>

  <!-- hook -->
  <path d="M652.4,203.6 L590,273 C586.3,278.7 581.8,283.9 579.0,290.0C576.1,296.3 574.2,303.2 573.0,310.0C571.6,317.9 570.8,326.0 571.0,334.0C571.1,340.1 572.5,346.1 574.0,352.0C575.5,358.1 576.8,364.6 580.0,370.0C585.6,379.4 591.8,388.7 600.0,396.0C607.5,402.7 616.7,407.3 626.0,411.0C635.6,414.8 645.7,418.0 656.0,418.0C665.6,418.0 674.9,414.3 684.0,411.0C691.7,408.2 699.1,404.4 706.0,400.0C714.5,394.7 722.2,388.2 730.0,382.0C736.8,376.6 743.2,370.5 750.0,365.0C753.2,362.5 756.3,359.7 760.0,358.0C764.4,355.9 769.2,354.5 774.0,353.6C782.6,352.0 791.3,350.9 800.0,350.4C806.7,350.0 813.3,350.6 820.0,351.0C827.2,351.5 834.5,352.3 841.7,353.0 L841.7,300.3 C827.8,301.2 813.9,301.9 800.0,303.0C790.0,303.8 779.9,304.2 770.0,306.0C765.1,306.9 760.5,308.9 756.0,311.0C750.5,313.6 745.2,316.7 740.0,320.0C733.1,324.4 726.7,329.3 720.0,334.0C713.3,338.7 706.4,342.9 700.0,348.0C695.0,352.0 691.0,357.0 686.0,361.0C682.3,364.0 678.5,367.2 674.0,369.0C669.6,370.8 664.7,371.8 660.0,371.6C654.5,371.4 649.2,369.8 644.0,368.0C638.8,366.2 633.1,364.7 629.0,361.0C624.7,357.1 622.2,351.4 620.0,346.0C618.5,342.2 617.9,338.1 618.0,334.0C618.2,327.9 619.4,321.9 621.0,316.0C622.4,310.8 625.0,306.0 627.0,301.0 L688.4,238 Z" fill="#fff" stroke="#0a0a0a" stroke-width="2.5" stroke-linejoin="miter"/>

  <!-- extension lines -->
  <g stroke="#1a1a1a" fill="none">
    <path d="M571.3,32 V275" stroke-width="1.3"/>
    <path d="M1322.9,32 V275.5" stroke-width="1.5" stroke="#2a2a2a"/>
    <path d="M868.4,511 V574.6" stroke-width="1.4"/>
    <path d="M1379.9,328 V575" stroke-width="1.5" stroke="#2a2a2a"/>
  </g>

  <!-- dimension L -->
  <g stroke="#111" stroke-width="1.3" fill="none">
    <path d="M590,46.7 H915.6 M969.2,46.7 H1304"/>
    <path d="M887,564.8 H1360"/>
    <path d="M1428.8,227.3 V280 M1428.8,370 V421.8"/>
    <path d="M1474,221.5 V274 M1474,376 V428.7"/>
  </g>
  <g fill="#000">
    <path d="M572.6,46.7 L595.8,36.8 L591.8,46.7 L595.8,56.5 Z"/>
    <path d="M1321.6,46.6 L1298.3,36.8 L1302.4,46.6 L1298.3,56.5 Z"/>
    <path d="M870.2,564.8 L893.3,555.2 L888.8,564.8 L893.3,574.3 Z"/>
    <path d="M1378.1,564.8 L1355.6,555.2 L1359.8,564.8 L1355.6,574.3 Z"/>
    <!-- M arrows -->
    <path d="M1428.8,295 L1419.2,272 L1428.8,276.2 L1438.4,272 Z"/>
    <path d="M1428.8,354.6 L1419.2,377.6 L1428.8,373.4 L1438.4,377.6 Z"/>
    <!-- D arrows -->
    <path d="M1474,288.8 L1464.4,265.8 L1474,270 L1483.6,265.8 Z"/>
    <path d="M1474,361.4 L1464.4,384.4 L1474,380.2 L1483.6,384.4 Z"/>
  </g>

  <!-- letters -->
  <path d="M933.9,29.8 H938.1 V56.5 H950.7 V60.1 H933.9 Z" fill="#000"/>
  <text x="1091.3" y="554" font-size="40.5">e</text>
  <path d="M1413.8,337.7 L1416.6,308.2 L1421,308.2 L1429,331 L1437,308.2 L1441.4,308.2 L1444.2,337.7 L1441,337.7 L1439.2,313.8 L1430.6,337.7 L1427.4,337.7 L1418.8,313.8 L1417,337.7 Z" fill="#000"/>
  <path fill-rule="evenodd" d="M1462.2,308.2 H1469.7 C1481,308.2 1487,313.5 1487,322.5 C1487,332 1481,337.7 1469.5,337.7 H1462.2 Z M1465.5,311 V334.9 H1469.8 C1478.5,334.9 1483.6,330.5 1483.6,322.6 C1483.6,315 1478.5,311 1470,311 Z" fill="#000"/>
</g>
</svg>
</body>
</html>
